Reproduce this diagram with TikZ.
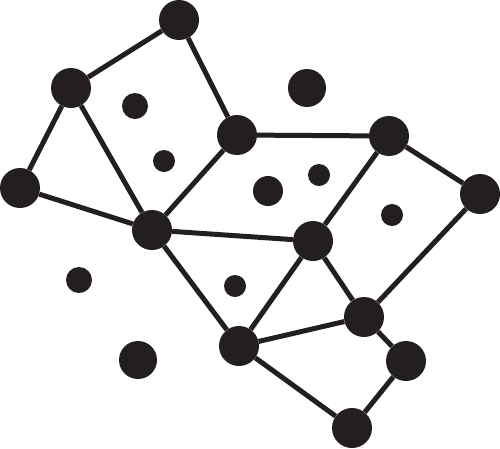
\documentclass[tikz,border=0pt]{standalone}
\definecolor{ink}{HTML}{231F20}
\begin{document}
\begin{tikzpicture}[x=1pt,y=-1pt,
  hub/.style={circle,fill=ink,inner sep=0pt,minimum size=40pt},
  dotA/.style={circle,fill=ink,inner sep=0pt,minimum size=#1},
  link/.style={draw=ink,line width=5pt}]
\useasboundingbox (0,0) rectangle (500,448);
% hubs
\node[hub] (A) at (179,20) {};
\node[hub] (B) at (71,88) {};
\node[hub] (C) at (237,135) {};
\node[hub] (D) at (389,136) {};
\node[hub] (E) at (20,188) {};
\node[hub] (F) at (480,194) {};
\node[hub] (G) at (152,230) {};
\node[hub] (H) at (313,241) {};
\node[hub] (I) at (364,317) {};
\node[hub] (J) at (239,346) {};
\node[hub] (K) at (406,361) {};
\node[hub] (L) at (352,428) {};
% free dots
\node[dotA=38pt] (d1) at (307,88) {};
\node[dotA=26pt] (d2) at (135,106) {};
\node[dotA=22pt] (d3) at (164,161) {};
\node[dotA=30pt] (d4) at (268,191) {};
\node[dotA=22pt] (d5) at (319,175) {};
\node[dotA=22pt] (d6) at (392,215) {};
\node[dotA=26pt] (d7) at (79,280) {};
\node[dotA=22pt] (d8) at (235,286) {};
\node[dotA=38pt] (d9) at (138,360) {};
% links
\begin{scope}[on background layer/.try]
\end{scope}
\draw[link] (A) -- (B);
\draw[link] (A) -- (C);
\draw[link] (B) -- (E);
\draw[link] (B) -- (G);
\draw[link] (E) -- (G);
\draw[link] (C) -- (G);
\draw[link] (C) -- (D);
\draw[link] (D) -- (F);
\draw[link] (D) -- (H);
\draw[link] (G) -- (H);
\draw[link] (G) -- (J);
\draw[link] (H) -- (J);
\draw[link] (H) -- (I);
\draw[link] (F) -- (I);
\draw[link] (J) -- (I);
\draw[link] (J) -- (L);
\draw[link] (I) -- (K);
\draw[link] (K) -- (L);
\end{tikzpicture}
\end{document}
